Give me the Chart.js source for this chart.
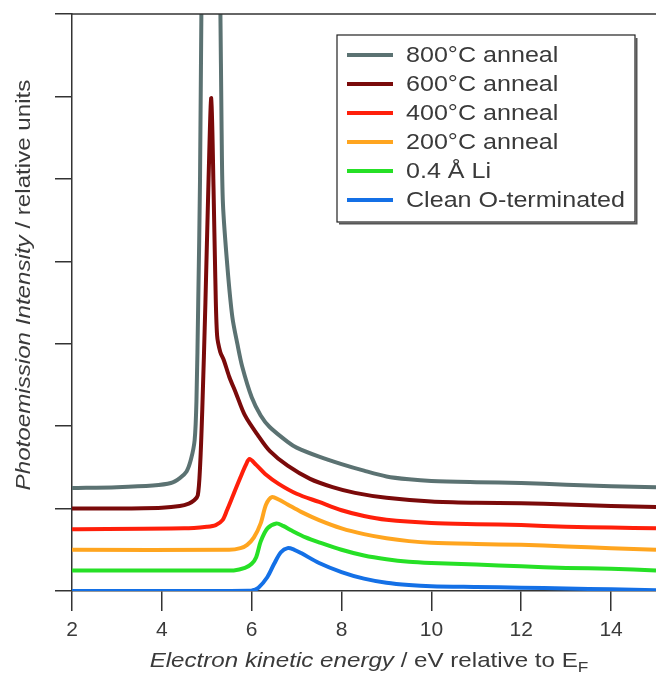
<!DOCTYPE html>
<html><head><meta charset="utf-8">
<script src="https://cdn.jsdelivr.net/npm/chart.js@4/dist/chart.umd.min.js"></script>
<style>html,body{margin:0;padding:0;background:#fff;overflow:hidden}</style>
</head><body>
<canvas id="c" width="656" height="677"></canvas>
<script>
// ---- data ----
const seriesLabels = ["800°C anneal","600°C anneal","400°C anneal","200°C anneal","0.4 Å Li","Clean O-terminated"];
const seriesColors = ["#5b7272","#7a0a0a","#ff1f0a","#ffa51f","#26e026","#1470e6"];

const x800 = [2,3,3.8,4.2,4.4,4.55,4.65,4.73,4.77,4.81,4.85,4.88,4.93,5.02,5.15,5.27,5.3,5.33,5.36,5.46,5.57,5.68,5.79,6.0,6.2,6.4,6.8,7.0,7.5,8.0,8.5,9.0,9.5,10,11,12,13,14,15];
const y800 = [1.25,1.26,1.28,1.31,1.37,1.45,1.6,1.83,2.3,3.5,5.0,7.0,9.0,10.0,9.5,8.0,7.2,5.6,4.7,3.93,3.32,3.0,2.72,2.35,2.13,1.99,1.81,1.74,1.63,1.54,1.46,1.39,1.355,1.335,1.32,1.31,1.29,1.27,1.26];

const x600 = [2,3,4,4.4,4.6,4.72,4.8,4.85,4.9,4.97,5.04,5.1,5.15,5.19,5.23,5.3,5.38,5.5,5.65,5.85,6.15,6.4,6.8,7.3,7.8,8.3,9.0,10,11,12,13,14,15];
const y600 = [1.0,1.0,1.01,1.03,1.06,1.1,1.16,1.5,2.2,3.5,5.0,5.98,4.9,3.8,3.1,2.9,2.8,2.6,2.4,2.13,1.88,1.7,1.52,1.36,1.26,1.19,1.13,1.085,1.07,1.065,1.05,1.03,1.02];

const x400 = [2,4.5,5.0,5.2,5.35,5.45,5.6,5.75,5.87,5.95,6.1,6.3,6.6,7.0,7.5,8.0,8.5,9.0,10,11,12,13,14,15];
const y400 = [0.75,0.76,0.78,0.8,0.86,0.98,1.18,1.38,1.53,1.6,1.53,1.42,1.3,1.18,1.08,0.98,0.91,0.865,0.825,0.81,0.8,0.78,0.77,0.76];

const x200 = [2,5.5,5.75,5.9,6.05,6.2,6.32,6.45,6.6,6.8,7.1,7.5,8.0,8.5,9.0,9.5,10,11,12,13,14,15];
const y200 = [0.5,0.5,0.52,0.56,0.65,0.82,1.05,1.14,1.11,1.05,0.96,0.86,0.76,0.69,0.64,0.605,0.585,0.57,0.56,0.54,0.52,0.5];

const xLi = [2,5.0,5.6,5.85,6.0,6.1,6.2,6.35,6.55,6.7,6.9,7.2,7.5,8.0,8.5,9.0,9.5,10,11,12,13,14,15];
const yLi = [0.25,0.25,0.25,0.28,0.33,0.41,0.6,0.76,0.82,0.79,0.73,0.65,0.59,0.5,0.43,0.385,0.355,0.34,0.32,0.3,0.28,0.27,0.25];

const xClean = [2,5.5,6.0,6.15,6.35,6.5,6.65,6.8,6.95,7.1,7.5,8.0,8.5,9.0,9.5,10,11,12,13,14,15];
const yClean = [0,0,0.005,0.04,0.17,0.33,0.47,0.52,0.5,0.46,0.34,0.23,0.15,0.1,0.072,0.057,0.048,0.04,0.03,0.02,0.01];

const xTicks = [2,4,6,8,10,12,14];
const yTicks = [0,1,2,3,4,5,6,7];

const seriesX = [x800,x600,x400,x200,xLi,xClean];
const seriesY = [y800,y600,y400,y200,yLi,yClean];

const FONT = "'Liberation Sans', Arial, Helvetica, sans-serif";
const TXT = "#3a3a3a";

const datasets = seriesLabels.map((lab,i)=>({
  label: lab,
  data: seriesX[i].map((x,j)=>({x:x, y:seriesY[i][j]})),
  borderColor: seriesColors[i],
  backgroundColor: seriesColors[i],
  borderWidth: 4,
  pointRadius: 0,
  tension: 0.3,
  fill: false
}));

// draws text pieces [text, font] stretched along the writing direction
function drawRuns(ctx, runs, cx, y, stretch){
  let tot = 0;
  runs.forEach(r=>{ctx.font=r[1]; tot += ctx.measureText(r[0]).width;});
  ctx.save();
  ctx.translate(cx, y); ctx.scale(stretch, 1);
  let x0 = -tot/2;
  runs.forEach(r=>{ctx.font=r[1]; ctx.fillText(r[0], x0, r[2]||0); x0 += ctx.measureText(r[0]).width;});
  ctx.restore();
}

const decor = {
  id: 'decor',
  afterDraw(chart){
    const ctx = chart.ctx, ca = chart.chartArea;
    ctx.save();
    // top frame line
    ctx.strokeStyle = '#333'; ctx.lineWidth = 1.5;
    ctx.beginPath(); ctx.moveTo(ca.left, ca.top); ctx.lineTo(ca.right, ca.top); ctx.stroke();

    // legend box
    const bx = 337, by = 35, bw = 298, bh = 187;
    ctx.fillStyle = '#fff'; ctx.fillRect(bx, by, bw, bh);
    ctx.strokeStyle = '#222'; ctx.lineWidth = 1.2;
    ctx.strokeRect(bx, by, bw, bh);
    ctx.strokeStyle = '#555'; ctx.lineWidth = 2;
    ctx.beginPath(); ctx.moveTo(bx+2, by+bh+1.5); ctx.lineTo(bx+bw+1.5, by+bh+1.5); ctx.lineTo(bx+bw+1.5, by+3); ctx.stroke();
    ctx.font = "22px " + FONT;
    const st = 219 / ctx.measureText(chart.data.datasets[chart.data.datasets.length-1].label).width;
    chart.data.datasets.forEach((ds,i)=>{
      const yy = 55 + i*29;
      ctx.strokeStyle = ds.borderColor; ctx.lineWidth = 4;
      ctx.beginPath(); ctx.moveTo(347, yy); ctx.lineTo(393, yy); ctx.stroke();
      ctx.fillStyle = TXT; ctx.font = "22px " + FONT;
      ctx.textBaseline = 'middle'; ctx.textAlign = 'left';
      ctx.save(); ctx.translate(406, yy+1); ctx.scale(st,1);
      ctx.fillText(ds.label, 0, 0);
      ctx.restore();
    });

    // x title with mixed styles
    ctx.textBaseline = 'alphabetic'; ctx.textAlign = 'left'; ctx.fillStyle = TXT;
    drawRuns(ctx, [["Electron kinetic energy","italic 21px "+FONT],[" / eV relative to E","21px "+FONT],["F","15px "+FONT,5]], 369, 667, 1.15);

    // y title
    ctx.save();
    ctx.translate(30, 285); ctx.rotate(-Math.PI/2);
    drawRuns(ctx, [["Photoemission Intensity","italic 21px "+FONT],[" / relative units","21px "+FONT]], 0, 0, 1.15);
    ctx.restore();
    ctx.restore();
  }
};

new Chart(document.getElementById('c'), {
  type: 'line',
  data: { datasets },
  options: {
    responsive: false,
    animation: false,
    devicePixelRatio: 1,
    layout: { padding: { left: 55, top: 14, right: 0, bottom: 0 } },
    plugins: { legend: { display: false }, tooltip: { enabled: false }, title: { display: false } },
    scales: {
      x: {
        type: 'linear', min: 2, max: 15,
        afterBuildTicks: s => { s.ticks = xTicks.map(v=>({value:v})); },
        afterFit: s => { s.height = 86; },
        ticks: { color: TXT, font: { family: FONT, size: 21 }, padding: 7, maxRotation: 0, autoSkip: false },
        grid: { drawOnChartArea: false, drawTicks: true, tickLength: 20, color: '#333', lineWidth: 1.5 },
        border: { display: true, color: '#333', width: 1.5 }
      },
      y: {
        type: 'linear', min: 0, max: 7,
        afterBuildTicks: s => { s.ticks = yTicks.map(v=>({value:v})); },
        afterFit: s => { s.width = 17; },
        ticks: { display: false },
        grid: { drawOnChartArea: false, drawTicks: true, tickLength: 17, color: '#333', lineWidth: 1.5 },
        border: { display: true, color: '#333', width: 1.5 }
      }
    }
  },
  plugins: [decor]
});
</script>
</body></html>
